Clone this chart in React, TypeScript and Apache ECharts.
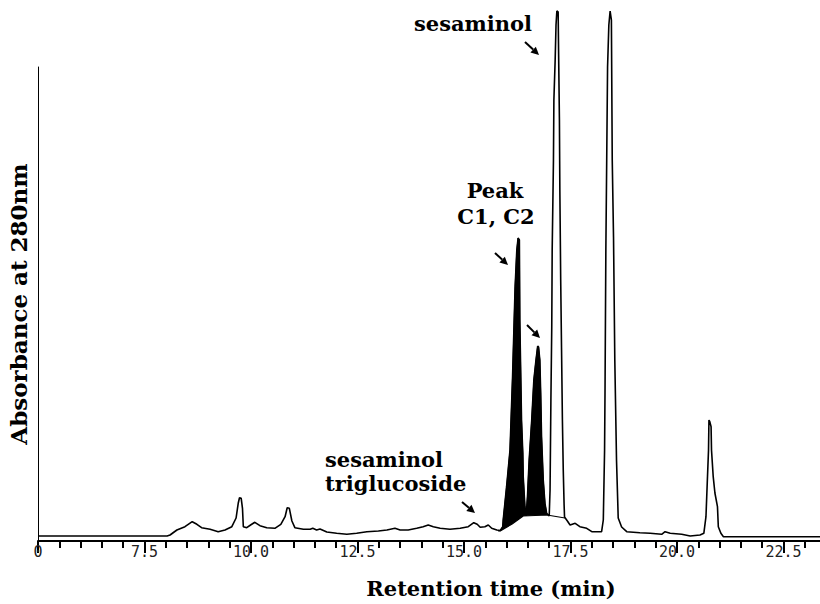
import React, { useEffect, useRef } from "react";
import * as echarts from "echarts";

// Chromatogram trace: retention time (min) and absorbance (arbitrary units)
const retentionTime = [
  5.0, 8.03, 8.1, 8.26, 8.45, 8.62, 8.73, 8.84, 9.04, 9.23, 9.39, 9.55, 9.65, 9.7, 9.73, 9.77, 9.8, 9.82, 9.9, 9.99,
  10.09, 10.21, 10.37, 10.56, 10.7, 10.8, 10.85, 10.9, 10.96, 11.03, 11.23, 11.39, 11.45, 11.54, 11.62, 11.78, 12.01,
  12.25, 12.48, 12.72, 12.99, 13.19, 13.38, 13.5, 13.69, 13.89, 14.04, 14.16, 14.28, 14.44, 14.67, 14.91, 15.1, 15.23,
  15.31, 15.38, 15.49, 15.57, 15.65, 15.77, 15.85, 15.91, 15.92, 16.0, 16.08, 16.14, 16.2, 16.24, 16.27, 16.3, 16.31,
  16.35, 16.38, 16.39, 16.43, 16.46, 16.49, 16.53, 16.59, 16.64, 16.69, 16.73, 16.75, 16.78, 16.8, 16.82, 16.86, 16.9,
  16.94, 17.0, 17.02, 17.04, 17.06, 17.07, 17.1, 17.11, 17.14, 17.16, 17.18, 17.21, 17.22, 17.24, 17.25, 17.27, 17.29,
  17.31, 17.33, 17.35, 17.36, 17.41, 17.49, 17.61, 17.72, 17.88, 18.0, 18.12, 18.23, 18.27, 18.3, 18.31, 18.33, 18.35,
  18.37, 18.4, 18.43, 18.46, 18.48, 18.51, 18.54, 18.58, 18.62, 18.7, 18.82, 19.13, 19.37, 19.64, 19.72, 19.84, 20.11,
  20.31, 20.54, 20.63, 20.68, 20.71, 20.74, 20.75, 20.77, 20.8, 20.81, 20.85, 20.89, 20.95, 20.97, 21.03, 21.09, 23.36,
];
const absorbance = [
  5, 5, 6, 11, 14.3, 19.3, 16.7, 13.3, 11.7, 9.3, 11, 14.3, 23, 37.7, 43.3, 42.7, 32.7, 14.3, 13.3, 16,
  18.7, 15.3, 13.3, 12.7, 16.7, 24.3, 33.3, 32.7, 20, 13.3, 11.7, 11.7, 12.7, 11, 12, 9, 7.7,
  6.7, 7.7, 9.3, 10, 11, 12.7, 11, 11, 12.7, 14.3, 16, 14.3, 12.7, 11.7, 12.7, 14.3, 18.3,
  16.7, 13.7, 14.3, 16, 12.7, 11, 10.5, 14.3, 21, 54.3, 91, 164.3, 254.3, 291, 303, 301, 221,
  121, 88, 64.3, 34.3, 25, 44.3, 81, 121, 161, 181, 195, 194, 181, 148, 104.3, 61, 37.7,
  27.7, 25, 51, 141, 214, 291, 381, 441, 481, 516, 530, 529, 491, 421, 351, 261, 191,
  121, 71, 36, 24, 21, 16, 17.7, 14.3, 12.7, 9.3, 9.3, 9.3, 21, 91, 148, 291, 381,
  474, 516, 530, 521, 381, 304, 181, 81, 23, 14, 9.3, 8.3, 7.7, 6.7, 9.3, 7.7, 6.7,
  5, 6, 7.7, 24.3, 58, 91, 121, 119.3, 114.3, 91, 64.3, 48, 34.3, 14.3, 7.7, 4.3, 4.3,
];

// Integration baseline drawn beneath peaks C1 and C2 (and sesaminol foot)
const baselineTime = [15.8, 15.85, 16.13, 16.39, 16.95, 17.37];
const baselineAbs = [10, 10, 17, 25, 26, 23];

// Shaded (integrated) region: peaks C1 and C2
const shadedRange = [15.85, 17.0];

// X tick values and their printed labels (axis is broken: first tick reads "0")
const tickValues = [5, 7.5, 10, 12.5, 15, 17.5, 20, 22.5];
const tickLabels = ["0", "7.5", "10.0", "12.5", "15.0", "17.5", "20.0", "22.5"];

const SERIF = '"DejaVu Serif", "Liberation Serif", serif';

function arrow(x1: number, y1: number, x2: number, y2: number) {
  const ang = Math.atan2(y2 - y1, x2 - x1);
  const hl = 8;
  const hw = 4;
  const bx = x2 - hl * Math.cos(ang);
  const by = y2 - hl * Math.sin(ang);
  const px = -Math.sin(ang) * hw;
  const py = Math.cos(ang) * hw;
  return [
    { type: "line", silent: true, shape: { x1, y1, x2: bx, y2: by }, style: { stroke: "#000", lineWidth: 2 } },
    {
      type: "polygon",
      silent: true,
      shape: { points: [[x2, y2], [bx + px, by + py], [bx - px, by - py]] },
      style: { fill: "#000" },
    },
  ];
}

function label(text: string, x: number, y: number, align: string) {
  return {
    type: "text",
    silent: true,
    x,
    y,
    style: {
      text,
      font: `bold 21px ${SERIF}`,
      fill: "#000",
      align,
      textAlign: align,
      verticalAlign: "middle",
      textVerticalAlign: "middle",
    },
  };
}

export default function App() {
  const ref = useRef<HTMLDivElement>(null);

  useEffect(() => {
    if (!ref.current) return;
    const chart = echarts.init(ref.current, undefined, { renderer: "svg" });

    const trace = retentionTime.map((t, i) => [t, absorbance[i]]);
    const shaded = trace.filter((p) => p[0] >= shadedRange[0] && p[0] <= shadedRange[1]);
    const baseline = baselineTime.map((t, i) => [t, baselineAbs[i]]);

    chart.setOption({
      animation: false,
      backgroundColor: "#fff",
      grid: { left: 38, right: -70, top: 67, bottom: 63, outerBoundsMode: "none" },
      xAxis: {
        type: "value",
        min: 5,
        max: 25,
        interval: 2.5,
        axisLine: { show: true, onZero: false, lineStyle: { color: "#000", width: 2 } },
        axisTick: { show: true, length: 12, lineStyle: { color: "#000", width: 2 } },
        minorTick: { show: true, splitNumber: 5, length: 7, lineStyle: { color: "#000", width: 2 } },
        splitLine: { show: false },
        axisLabel: {
          margin: 3,
          fontFamily: '"DejaVu Sans Mono", monospace',
          fontSize: 15,
          color: "#222",
          hideOverlap: false,
          showMaxLabel: false,
          formatter: (v: number) => {
            const i = tickValues.findIndex((tv) => Math.abs(tv - v) < 1e-6);
            return i >= 0 ? tickLabels[i] : "";
          },
        },
        name: "Retention time (min)",
        nameLocation: "middle",
        nameGap: 37,
        nameTextStyle: {
          fontFamily: SERIF,
          fontWeight: "bold",
          fontSize: 21,
          color: "#000",
          padding: [0, 0, 0, 54],
        },
      },
      yAxis: {
        type: "value",
        min: 0,
        max: 474,
        axisLine: { show: true, onZero: false, lineStyle: { color: "#000", width: 1 } },
        axisTick: { show: false },
        axisLabel: { show: false },
        splitLine: { show: false },
        name: "Absorbance at 280nm",
        nameLocation: "middle",
        nameRotate: 90,
        nameGap: 8,
        nameTextStyle: { fontFamily: SERIF, fontWeight: "bold", fontSize: 23, color: "#000" },
      },
      series: [
        {
          name: "C1/C2 area",
          type: "line",
          data: shaded,
          symbol: "none",
          silent: true,
          z: 1,
          lineStyle: { color: "#000", width: 1 },
          areaStyle: { color: "#000", opacity: 1, origin: 3 },
        },
        {
          name: "Integration baseline",
          type: "line",
          data: baseline,
          symbol: "none",
          silent: true,
          z: 2,
          lineStyle: { color: "#000", width: 1.2 },
          areaStyle: { color: "#fff", opacity: 1, origin: 3 },
        },
        {
          name: "Chromatogram",
          type: "line",
          data: trace,
          symbol: "none",
          silent: true,
          clip: false,
          z: 3,
          lineStyle: { color: "#000", width: 1.6 },
        },
      ],
      graphic: [
        label("sesaminol", 473, 23, "center"),
        ...arrow(525, 42, 539, 55),
        label("Peak", 495, 190, "center"),
        label("C1, C2", 496, 216, "center"),
        ...arrow(495, 253, 508, 265),
        ...arrow(527, 325, 540, 338),
        label("sesaminol", 325, 459, "left"),
        label("triglucoside", 325, 483, "left"),
        ...arrow(462, 502, 475, 513),
      ],
    });

    return () => chart.dispose();
  }, []);

  return (
    <div
      ref={ref}
      style={{ position: "absolute", left: 0, top: 0, width: 820, height: 604, background: "#fff" }}
    />
  );
}
